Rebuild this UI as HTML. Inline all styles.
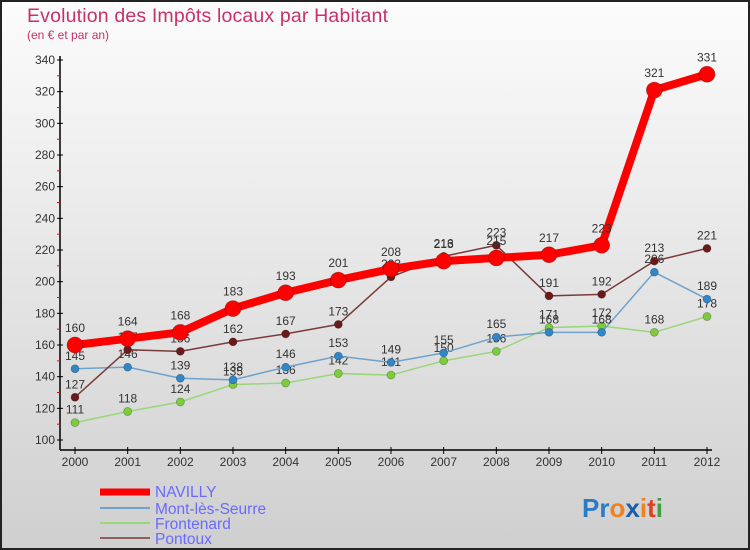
<!DOCTYPE html>
<html><head><meta charset="utf-8"><style>
body{margin:0;width:750px;height:550px;overflow:hidden}
svg{display:block;font-family:"Liberation Sans",sans-serif}
</style></head><body>
<svg id="c" width="750" height="550">
<defs><linearGradient id="bg" x1="0" y1="0" x2="0" y2="1"><stop offset="0" stop-color="#fcfcfc"/><stop offset="1" stop-color="#cfcfcf"/></linearGradient></defs>
<rect x="0" y="0" width="750" height="550" fill="url(#bg)"/>
<rect x="1" y="1" width="748" height="548" fill="none" stroke="#222" stroke-width="2"/>
<text x="27" y="22" font-size="19.5" fill="#c8306a" textLength="361">Evolution des Impôts locaux par Habitant</text>
<text x="27" y="39" font-size="12" fill="#c8306a">(en € et par an)</text>
<g id="axes"></g><g id="series"></g>
<g font-size="15.5" fill="#6a6aff">
<line x1="100" y1="492" x2="150" y2="492" stroke="#f00" stroke-width="7"/>
<text x="155" y="497">NAVILLY</text>
<line x1="100" y1="508" x2="150" y2="508" stroke="#6fa2cc" stroke-width="2"/>
<text x="155" y="514">Mont-lès-Seurre</text>
<line x1="100" y1="523" x2="150" y2="523" stroke="#9ad67a" stroke-width="2"/>
<text x="155" y="529">Frontenard</text>
<line x1="100" y1="538" x2="150" y2="538" stroke="#8a6262" stroke-width="2"/>
<text x="155" y="544">Pontoux</text>
</g>
<text x="582" y="517" font-size="26" font-weight="bold"><tspan fill="#2a7bc8">Pr</tspan><tspan fill="#f08020">o</tspan><tspan fill="#1a5fa8">x</tspan><tspan fill="#f08020">i</tspan><tspan fill="#e04020">t</tspan><tspan fill="#40a040">i</tspan></text>
</svg>
<script>
const years=[2000,2001,2002,2003,2004,2005,2006,2007,2008,2009,2010,2011,2012];
const navilly=[160,164,168,183,193,201,208,213,215,217,223,321,331];
const mont=[145,146,139,138,146,153,149,155,165,168,168,206,189];
const frontenard=[111,118,124,135,136,142,141,150,156,171,172,168,178];
const pontoux=[127,157,156,162,167,173,203,216,223,191,192,213,221];
const yTicks=[100,120,140,160,180,200,220,240,260,280,300,320,340];
const NS='http://www.w3.org/2000/svg';
const x=i=>75+i*(707-75)/(years.length-1);
const y=v=>440-(v-100)*(440-60)/240;
function mk(t,a,p){const e=document.createElementNS(NS,t);for(const k in a)e.setAttribute(k,a[k]);p.appendChild(e);return e;}
const ax=document.getElementById('axes');
const ya=mk('line',{x1:60,y1:56,x2:60,y2:450,stroke:'#000','stroke-width':1.5},ax);


const xa=mk('line',{x1:60,y1:450,x2:712,y2:450,stroke:'#000','stroke-width':1.5},ax);


yTicks.forEach((v,i)=>{
 mk('line',{x1:57,y1:y(v),x2:63,y2:y(v),stroke:'#000'},ax);
 const t=mk('text',{x:55,y:y(v)+4,'text-anchor':'end','font-size':12,fill:'#333'},ax);t.textContent=v;
 
 
 if(i<yTicks.length-1)mk('line',{x1:57,y1:y(v+10),x2:60,y2:y(v+10),stroke:'#f00'},ax);
});
years.forEach((yr,i)=>{
 mk('line',{x1:x(i),y1:447,x2:x(i),y2:454,stroke:'#000'},ax);
 const t=mk('text',{x:x(i),y:466,'text-anchor':'middle','font-size':12,fill:'#333'},ax);t.textContent=yr;
 
 
});
const sg=document.getElementById('series');
function draw(vals,name,col,dot,w,r){
 const g=mk('g',{},sg);
 
 
 const l=mk('polyline',{points:vals.map((v,i)=>x(i)+','+y(v)).join(' '),fill:'none',stroke:col,'stroke-width':w,'stroke-linejoin':'round'},g);
 
 
 vals.forEach((v,i)=>{
  const c=mk('circle',{cx:x(i),cy:y(v),r:r,fill:dot,stroke:'rgba(0,0,0,0.3)','stroke-width':0.7},g);
  
  
  const t=mk('text',{x:x(i),y:y(v)-r-5,'text-anchor':'middle','font-size':12,fill:'#333'},g);t.textContent=v;
  
  
 });
}
draw(frontenard,'frontenard','#9ad67a','#7ccc3c',1.5,4);
draw(mont,'mont-les-seurre','#6fa2cc','#2f86c8',1.5,4);
draw(pontoux,'pontoux','#7a3a3a','#6a1a1a',1.5,4);
draw(navilly,'navilly','#f00','#f00',8,8);
</script>
</body></html>
